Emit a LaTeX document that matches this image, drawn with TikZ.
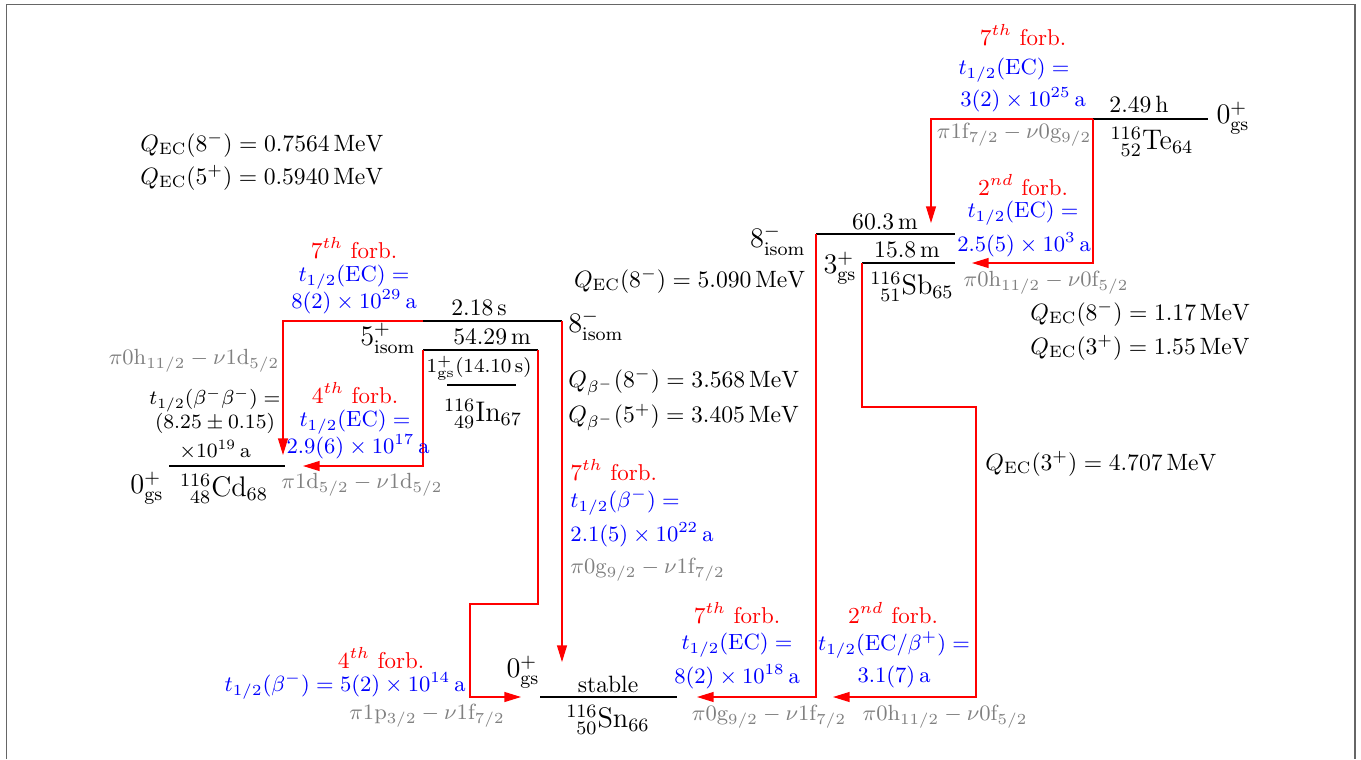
\documentclass[tikz,border=0pt]{standalone}
\usepackage{fix-cm}
\usepackage{amsmath}
\usetikzlibrary{arrows.meta}

\tikzset{
  livello/.style={line width=0.6pt},
  decad/.style={red, line width=0.5pt, -{Triangle[length=7pt,width=4.2pt]}},
  forb/.style={red, inner sep=0pt, font=\fontsize{9.7}{11}\selectfont},
  vita/.style={blue, inner sep=0pt, font=\fontsize{9.3}{11}\selectfont},
  orb/.style={gray, inner sep=0pt, font=\fontsize{9.3}{11}\selectfont},
  testo/.style={inner sep=0pt},
  piccolo/.style={inner sep=0pt, font=\fontsize{8.6}{10}\selectfont},
  spin/.style={font=\large, inner sep=0pt},
}

\begin{document}
\begin{tikzpicture}[x=0.4235pt, y=-0.4235pt]
\useasboundingbox (0,0) rectangle (1361,759);

% cornice
\draw[gray!80!black, line width=0.8pt] (6.5,759) -- (6.5,4.5) -- (1355,4.5) -- (1355,759);

% livelli
\coordinate (te-l) at (1093,119); \coordinate (te-r) at (1208,119);
\coordinate (sbm-l) at (816,234); \coordinate (sbm-r) at (955,234);
\coordinate (sbg-l) at (862,263); \coordinate (sbg-r) at (955,263);
\coordinate (inm-l) at (423,321); \coordinate (inm-r) at (562,321);
\coordinate (ini-l) at (423,350); \coordinate (ini-r) at (538,350);
\coordinate (ing-l) at (447,385); \coordinate (ing-r) at (516,385);
\coordinate (cd-l) at (169,466); \coordinate (cd-r) at (285,466);
\coordinate (sn-l) at (540,697); \coordinate (sn-r) at (677,697);
\foreach \a in {te,sbm,sbg,inm,ini,ing,cd,sn}
  \draw[livello] (\a-l) -- (\a-r);

% punti di arrivo e gomiti
\coordinate (sbm-in) at (931,223);
\coordinate (sbg-in) at (972,263);
\coordinate (cd-in1) at (283,455);
\coordinate (cd-in2) at (303,466);
\coordinate (sn-in1) at (521,697);
\coordinate (sn-in2) at (562,662);
\coordinate (sn-in3) at (697,697);
\coordinate (sn-in4) at (833,697);
\coordinate (gomito1) at (470,604);
\coordinate (gomito2) at (976,407);

% decadimenti
\draw[decad] (te-l) -| (sbm-in);
\draw[decad] (te-l) |- (sbg-in);
\draw[decad] (sbm-l) |- (sn-in3);
\draw[decad] (sbg-l) |- (gomito2) |- (sn-in4);
\draw[decad] (inm-l) -| (cd-in1);
\draw[decad] (ini-l) |- (cd-in2);
\draw[decad] (ini-r) |- (gomito1) |- (sn-in1);
\draw[decad] (inm-r) -- (sn-in2);

% Q in alto a sinistra
\node[testo, anchor=west] (cd-q1) at (140,145) {$Q_{\mathrm{EC}}(8^-) = 0.7564\,\mathrm{MeV}$};
\node[testo, anchor=west] (cd-q2) at (140,178) {$Q_{\mathrm{EC}}(5^+) = 0.5940\,\mathrm{MeV}$};

% Te
\node[testo] (te-t) at (1139,105) {2.49\,h};
\node[spin] (te-s) at (1233,118) {$0^+_{\mathrm{gs}}$};
\node[spin] (te-n) at (1152,142) {${}^{116}_{\phantom{1}52}\mathrm{Te}_{64}$};
\node[forb] (te7-f) at (1023,35) {$7^{th}$ forb.};
\node[vita] (te7-a) at (1014,70) {$t_{1/2}(\mathrm{EC}) =$};
\node[vita] (te7-b) at (1023,100) {$3(2)\times 10^{25}\,\mathrm{a}$};
\node[orb] (te7-o) at (1014,135) {$\pi 1\mathrm{f}_{7/2} - \nu 0\mathrm{g}_{9/2}$};
\node[forb] (te2-f) at (1023,185) {$2^{nd}$ forb.};
\node[vita] (te2-a) at (1023,213) {$t_{1/2}(\mathrm{EC}) =$};
\node[vita] (te2-b) at (1024,245) {$2.5(5)\times 10^{3}\,\mathrm{a}$};
\node[orb] (te2-o) at (1046,283) {$\pi 0\mathrm{h}_{11/2} - \nu 0\mathrm{f}_{5/2}$};

% Sb
\node[testo] (sbm-t) at (885,222) {60.3\,m};
\node[spin, anchor=east] (sbm-s) at (806,240) {$8^-_{\mathrm{isom}}$};
\node[testo] (sbg-t) at (907,250) {15.8\,m};
\node[spin] (sbg-s) at (840,268) {$3^+_{\mathrm{gs}}$};
\node[spin] (sb-n) at (912,287) {${}^{116}_{\phantom{1}51}\mathrm{Sb}_{65}$};
\node[testo, anchor=east] (sb-q1) at (806,281) {$Q_{\mathrm{EC}}(8^-) = 5.090\,\mathrm{MeV}$};
\node[testo, anchor=west] (sb-q2) at (1030,314) {$Q_{\mathrm{EC}}(8^-) = 1.17\,\mathrm{MeV}$};
\node[testo, anchor=west] (sb-q3) at (1030,348) {$Q_{\mathrm{EC}}(3^+) = 1.55\,\mathrm{MeV}$};
\node[testo, anchor=west] (sb-q4) at (985,464) {$Q_{\mathrm{EC}}(3^+) = 4.707\,\mathrm{MeV}$};

% In
\node[testo] (inm-t) at (479,308) {2.18\,s};
\node[spin] (inm-s) at (596,325) {$8^-_{\mathrm{isom}}$};
\node[testo] (ini-t) at (492,337) {54.29\,m};
\node[spin] (ini-s) at (388,338) {$5^+_{\mathrm{isom}}$};
\node[testo, font=\fontsize{8.4}{10}\selectfont] (ing-t) at (479,368) {$1^+_{\mathrm{gs}}(14.10\,\mathrm{s})$};
\node[spin] (in-n) at (483,414) {${}^{116}_{\phantom{1}49}\mathrm{In}_{67}$};
\node[testo, anchor=west] (in-q1) at (568,382) {$Q_{\beta^-}(8^-) = 3.568\,\mathrm{MeV}$};
\node[testo, anchor=west] (in-q2) at (568,417) {$Q_{\beta^-}(5^+) = 3.405\,\mathrm{MeV}$};

% In -> Cd
\node[forb] (cd7-f) at (354,248) {$7^{th}$ forb.};
\node[vita] (cd7-a) at (354,277) {$t_{1/2}(\mathrm{EC}) =$};
\node[vita] (cd7-b) at (354,302) {$8(2)\times 10^{29}\,\mathrm{a}$};
\node[forb] (cd4-f) at (355,393) {$4^{th}$ forb.};
\node[vita] (cd4-a) at (355,422) {$t_{1/2}(\mathrm{EC}) =$};
\node[vita] (cd4-b) at (358,447) {$2.9(6)\times 10^{17}\,\mathrm{a}$};
\node[orb] (cd4-o) at (362,485) {$\pi 1\mathrm{d}_{5/2} - \nu 1\mathrm{d}_{5/2}$};

% Cd
\node[spin] (cd-s) at (147,488) {$0^+_{\mathrm{gs}}$};
\node[spin] (cd-n) at (224,489) {${}^{116}_{\phantom{1}48}\mathrm{Cd}_{68}$};
\node[orb] (cd-o) at (194,361) {$\pi 0\mathrm{h}_{11/2} - \nu 1\mathrm{d}_{5/2}$};
\node[piccolo] (cd-a) at (215,400) {$t_{1/2}(\beta^-\beta^-) =$};
\node[piccolo] (cd-b) at (215,423) {$(8.25\pm0.15)$};
\node[piccolo] (cd-c) at (215,450) {$\times10^{19}\,\mathrm{a}$};

% In -> Sn
\node[forb, anchor=west] (in7-f) at (570,470) {$7^{th}$ forb.};
\node[vita, anchor=west] (in7-a) at (570,502) {$t_{1/2}(\beta^-) =$};
\node[vita, anchor=west] (in7-b) at (570,535) {$2.1(5)\times10^{22}\,\mathrm{a}$};
\node[orb, anchor=west] (in7-o) at (570,570) {$\pi 0\mathrm{g}_{9/2} - \nu 1\mathrm{f}_{7/2}$};
\node[forb] (in4-f) at (381,658) {$4^{th}$ forb.};
\node[vita] (in4-a) at (345,686) {$t_{1/2}(\beta^-) = 5(2)\times10^{14}\,\mathrm{a}$};
\node[orb] (in4-o) at (427,716) {$\pi 1\mathrm{p}_{3/2} - \nu 1\mathrm{f}_{7/2}$};

% Sn
\node[spin] (sn-s) at (523,672) {$0^+_{\mathrm{gs}}$};
\node[testo] (sn-t) at (608,684) {stable};
\node[spin] (sn-n) at (608,720) {${}^{116}_{\phantom{1}50}\mathrm{Sn}_{66}$};

% Sb -> Sn
\node[forb] (sn7-f) at (737,613) {$7^{th}$ forb.};
\node[vita] (sn7-a) at (737,645) {$t_{1/2}(\mathrm{EC}) =$};
\node[vita] (sn7-b) at (737,677) {$8(2)\times 10^{18}\,\mathrm{a}$};
\node[orb] (sn7-o) at (769,717) {$\pi 0\mathrm{g}_{9/2} - \nu 1\mathrm{f}_{7/2}$};
\node[forb] (sn2-f) at (893,613) {$2^{nd}$ forb.};
\node[vita] (sn2-a) at (894,645) {$t_{1/2}(\mathrm{EC}/\beta^+) =$};
\node[vita] (sn2-b) at (894,677) {$3.1(7)\,\mathrm{a}$};
\node[orb] (sn2-o) at (945,717) {$\pi 0\mathrm{h}_{11/2} - \nu 0\mathrm{f}_{5/2}$};

\end{tikzpicture}
\end{document}
